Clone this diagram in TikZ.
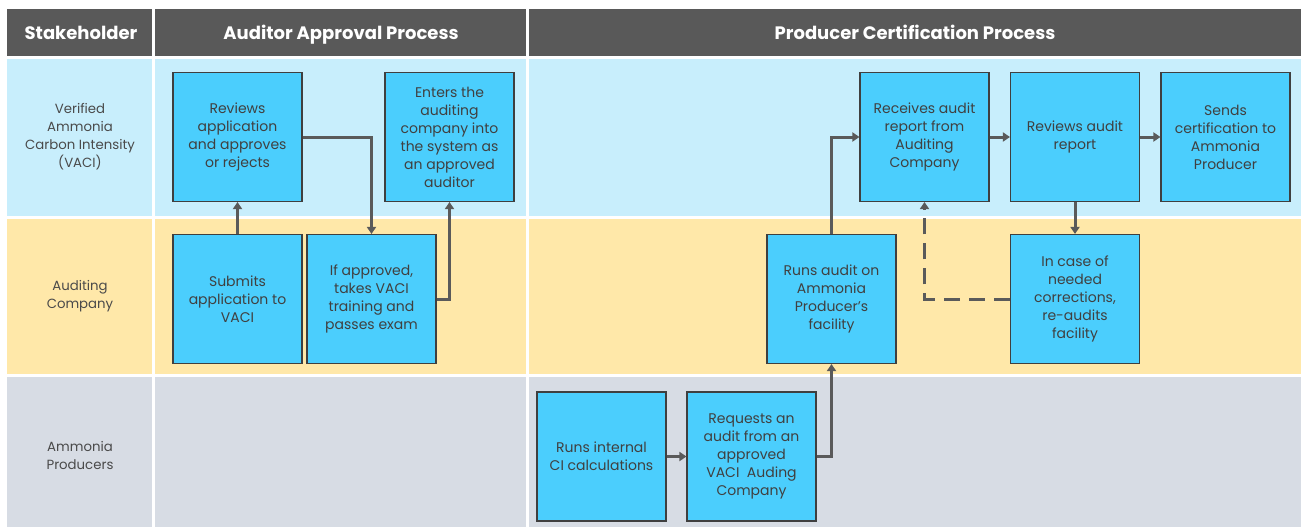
\documentclass[tikz,border=0pt]{standalone}
\usepackage{fontspec}
\setmainfont{Poppins}
\usetikzlibrary{arrows.meta}
\definecolor{hdr}{HTML}{595959}
\definecolor{laneA}{HTML}{C8EEFC}
\definecolor{laneB}{HTML}{FFE8A9}
\definecolor{laneC}{HTML}{D7DCE4}
\definecolor{boxfill}{HTML}{4BCEFD}
\definecolor{boxline}{HTML}{3F3F3F}
\definecolor{txt}{HTML}{404040}
\definecolor{lanetxt}{HTML}{4A4A4A}
\definecolor{conn}{HTML}{5A5A5A}
\tikzset{
  procbox/.style={draw=boxline, line width=1.1pt, fill=boxfill, minimum width=129pt, minimum height=129pt, align=center, inner sep=0pt, text=txt, font=\fontsize{14}{18}\selectfont},
  hdrtext/.style={text=white, anchor=base, font=\fontsize{18}{20}\selectfont\bfseries},
  lanetext/.style={text=lanetxt, align=center, font=\fontsize{13.3}{18}\selectfont},
  flow/.style={draw=conn, line width=3pt, -{Triangle[width=9pt,length=7pt]}},
  dflow/.style={flow, dash pattern=on 16pt off 9pt}
}
\begin{document}
\begin{tikzpicture}[x=1pt,y=-1pt]
\useasboundingbox (0,0) rectangle (1303,527);
\fill[white] (0,0) rectangle (1303,527);
% header
\fill[hdr] (7,9) rectangle (152,56);
\fill[hdr] (155,9) rectangle (526,56);
\fill[hdr] (529,9) rectangle (1301,56);
% lanes
\fill[laneA] (7,59) rectangle (152,216);
\fill[laneA] (155,59) rectangle (526,216);
\fill[laneA] (529,59) rectangle (1301,216);
\fill[laneB] (7,219) rectangle (152,374);
\fill[laneB] (155,219) rectangle (526,374);
\fill[laneB] (529,219) rectangle (1301,374);
\fill[laneC] (7,377) rectangle (152,527);
\fill[laneC] (155,377) rectangle (526,527);
\fill[laneC] (529,377) rectangle (1301,527);
% header texts
\node[hdrtext] (h1) at (81,40) {Stakeholder};
\node[hdrtext] (h2) at (341,40) {Auditor Approval Process};
\node[hdrtext] (h3) at (915,40) {Producer Certification Process};
% lane labels
\node[lanetext] (l1) at (80,137) {Verified\\Ammonia\\Carbon Intensity\\(VACI)};
\node[lanetext] (l2) at (80,296) {Auditing\\Company};
\node[lanetext] (l3) at (80,455) {Ammonia\\Producers};
% boxes
\node[procbox] (rev) at (237.5,137) {Reviews\\application\\and approves\\or rejects};
\node[procbox] (ent) at (449.5,137) {Enters the\\auditing\\company into\\the system as\\an approved\\auditor};
\node[procbox] (sub) at (237.5,299) {Submits\\application to\\VACI};
\node[procbox] (ifa) at (371.5,299) {If approved,\\takes VACI\\training and\\passes exam};
\node[procbox] (rec) at (924.5,137) {Receives audit\\report from\\Auditing\\Company};
\node[procbox] (rva) at (1075,137) {Reviews audit\\report};
\node[procbox] (snd) at (1225.5,137) {Sends\\certification to\\Ammonia\\Producer};
\node[procbox] (run) at (831.5,299) {Runs audit on\\Ammonia\\Producer's\\facility};
\node[procbox] (inc) at (1075,299) {In case of\\needed\\corrections,\\re-audits\\facility};
\node[procbox] (rin) at (601.5,456.5) {Runs internal\\CI calculations};
\node[procbox] (req) at (751.5,456.5) {Requests an\\audit from an\\approved\\VACI\ \ Auding\\Company};
% connectors
\draw[flow] (sub.north) -- (rev.south);
\draw[flow] (rev.east) -| (ifa.north);
\draw[flow] (ifa.east) -| (ent.south);
\draw[flow] (rin.east) -- (req.west);
\draw[flow] (req.east) -| (run.south);
\draw[flow] (run.north) |- (rec.west);
\draw[flow] (rec.east) -- (rva.west);
\draw[flow] (rva.east) -- (snd.west);
\draw[flow] (rva.south) -- (inc.north);
\draw[dflow] (inc.west) -| (rec.south);
\end{tikzpicture}
\end{document}
